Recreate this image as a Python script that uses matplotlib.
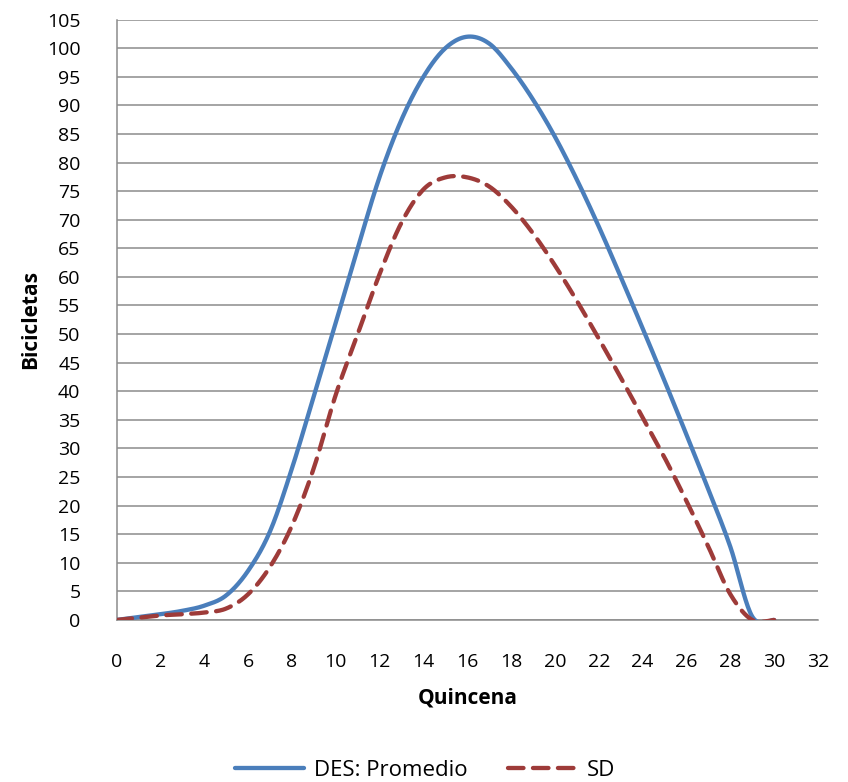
import numpy as np
import matplotlib
matplotlib.use('Agg')
import matplotlib.pyplot as plt

plt.rcParams['font.family'] = ['Open Sans', 'DejaVu Sans']

# Quincena (fortnight) and bicycle counts
quincena = [0, 1, 2, 3, 4, 5, 6, 7, 8, 9, 10, 11, 12, 13, 14, 15,
            16, 17, 18, 19, 20, 21, 22, 23, 24, 25, 26, 27, 28, 29, 30]
des_promedio = [0, 0.5, 1.0, 1.6, 2.5, 4.3, 8.6, 15.5, 26.5, 39.2, 52, 65,
                77.5, 87.5, 95, 100, 102, 100.8, 96.5, 91, 84.5,
                77, 68.8, 60, 51, 41.8, 32.4, 22.8, 12.8, 0.6, 0]
sd = [0, 0.4, 0.8, 1.0, 1.3, 2.0, 4.5, 9.3, 16.5, 26.6, 39.4, 50, 60.5,
      69.5, 75.3, 77.4, 77.4, 75.8, 72.3, 67.6, 62, 55.8, 49.2, 42.4, 35.4,
      28.4, 20.8, 12.8, 4.5, 0, 0]


def smooth(xs, ys, n=20):
	# Excel-like smoothed line (Catmull-Rom through every point)
	p = np.column_stack([xs, ys]).astype(float)
	p = np.vstack([p[0], p, p[-1]])
	out = []
	t = np.linspace(0, 1, n, endpoint=False)[:, None]
	for i in range(1, len(p) - 2):
		p0, p1, p2, p3 = p[i-1], p[i], p[i+1], p[i+2]
		c1 = p1 + (p2 - p0) / 6.
		c2 = p2 - (p3 - p1) / 6.
		seg = ((1-t)**3)*p1 + 3*((1-t)**2)*t*c1 + 3*(1-t)*(t**2)*c2 + (t**3)*p2
		out.append(seg)
	out.append(p[-2][None, :])
	out = np.vstack(out)
	return out[:, 0], out[:, 1]


fig = plt.figure(figsize=(8.48, 7.82), dpi=100)
ax = fig.add_axes([0.1375, 0.2072, 0.8271, 0.7678])

bx, by = smooth(quincena, des_promedio)
rx, ry = smooth(quincena, sd)
ax.plot(bx, by, color='#4A7EBB', lw=3.1, solid_capstyle='round',
		label='DES: Promedio', zorder=3)
ax.plot(rx, ry, color='#9E3B39', lw=3.1, dashes=(3.6, 2.2),
		dash_capstyle='round', label='SD', zorder=3)

ax.set_xlim(0, 32)
ax.set_ylim(0, 105)
ax.set_xticks(np.arange(0, 33, 2))
ax.set_yticks(np.arange(0, 106, 5))
ax.grid(axis='y', color='#8C8C8C', lw=1.1)
ax.set_axisbelow(True)
for s in ['top', 'right']:
	ax.spines[s].set_visible(False)
for s in ['left', 'bottom']:
	ax.spines[s].set_color('#8C8C8C')
	ax.spines[s].set_linewidth(1.1)
ax.tick_params(length=0, labelsize=14)
ax.tick_params(axis='y', pad=26)
ax.tick_params(axis='x', pad=24)

ax.set_xlabel('Quincena', fontsize=15, fontweight='bold', labelpad=12)
ax.set_ylabel('Bicicletas', fontsize=15, fontweight='bold', labelpad=4)

ax.legend(loc='upper center', bbox_to_anchor=(0.44, -0.2), ncol=2,
		  frameon=False, fontsize=16, handlelength=3.1, columnspacing=1.8,
		  handletextpad=0.45)

fig.savefig('out.png', dpi=100)
